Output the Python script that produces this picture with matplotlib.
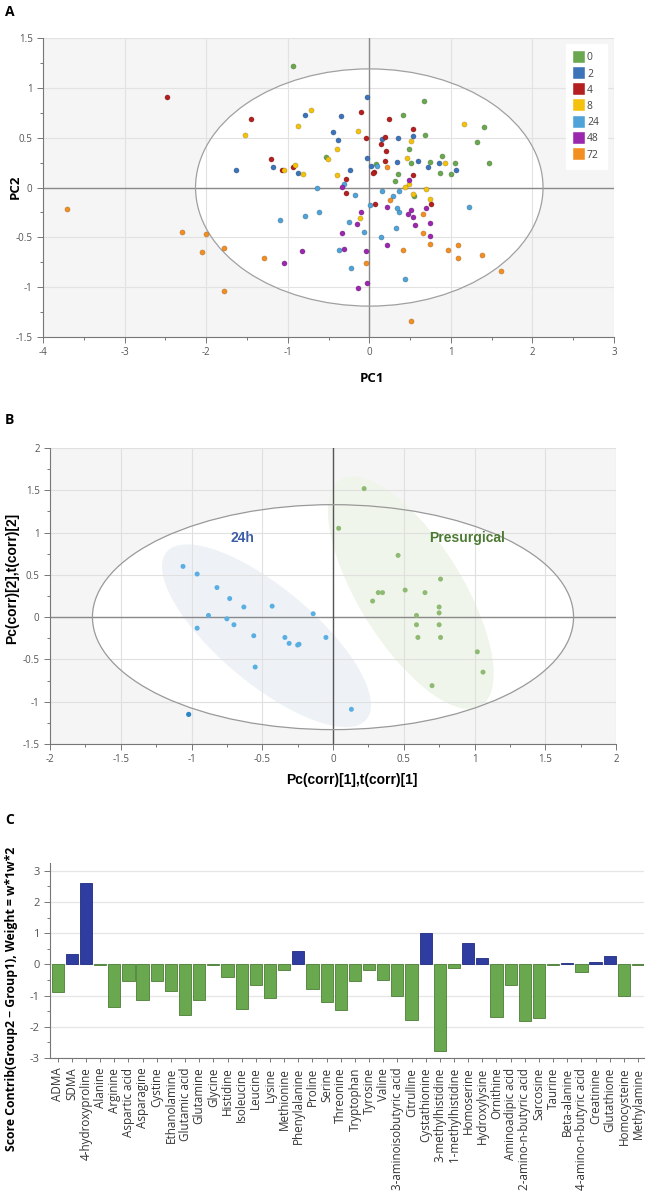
import matplotlib
matplotlib.use("Agg")
import matplotlib.pyplot as plt
from matplotlib.patches import Ellipse
from matplotlib.lines import Line2D
from matplotlib.ticker import MultipleLocator

# ---------------- Panel A data (PCA scores by time point) ----------------
groups_a = ["0", "2", "4", "8", "24", "48", "72"]
colors_a = ["#6aa84f", "#3d73b8", "#b41f1f", "#f4c20d", "#4fa3d8", "#9b27af", "#f38f22"]

pc1_0 = [-0.94, 0.67, 0.41, 0.68, 1.41, 1.32, 1.47, 0.49, 0.51, 0.75, 0.89, 1.05, 0.87, 1.00, 0.35, 0.32, 0.08, -0.53, 0.55]
pc2_0 = [1.22, 0.87, 0.73, 0.53, 0.61, 0.46, 0.25, 0.39, 0.25, 0.26, 0.32, 0.25, 0.15, 0.14, 0.14, 0.07, 0.24, 0.31, -0.09]

pc1_2 = [-0.03, -0.79, -0.35, -0.45, -0.38, 0.16, 0.35, 0.53, -0.03, 0.02, 0.34, 0.60, 0.72, 0.86, 1.06, -0.24, -0.87, -1.18, -1.63]
pc2_2 = [0.91, 0.73, 0.72, 0.56, 0.48, 0.49, 0.50, 0.52, 0.30, 0.22, 0.26, 0.27, 0.21, 0.25, 0.18, 0.18, 0.15, 0.21, 0.18]

pc1_4 = [-2.48, -1.45, -0.10, 0.24, 0.54, -0.04, 0.19, 0.14, 0.21, 0.19, 0.06, 0.05, 0.53, -1.20, -1.07, -0.94, -0.28, -0.28, 0.07, 0.76]
pc2_4 = [0.91, 0.69, 0.76, 0.69, 0.59, 0.50, 0.51, 0.44, 0.37, 0.27, 0.16, 0.15, 0.13, 0.29, 0.18, 0.21, 0.09, -0.06, -0.17, -0.17]

pc1_8 = [-0.72, -1.52, -0.88, -0.14, -0.39, -0.51, -0.91, -1.04, -0.81, -0.39, 0.51, 0.46, 0.93, 1.16, 0.49, 0.44, 0.54, 0.70, 0.75, -0.11]
pc2_8 = [0.78, 0.53, 0.62, 0.57, 0.39, 0.29, 0.23, 0.18, 0.14, 0.13, 0.47, 0.30, 0.25, 0.64, 0.04, 0.01, -0.07, -0.02, -0.12, -0.31]

pc1_24 = [-0.64, -0.31, -0.18, 0.01, 0.10, 0.16, 0.36, 0.29, 0.36, 0.34, 1.22, -1.10, -0.79, -0.62, -0.25, -0.06, 0.14, 0.33, -0.37, -0.22, 0.44]
pc2_24 = [-0.01, 0.04, -0.08, -0.18, 0.22, -0.04, -0.04, -0.09, -0.25, -0.21, -0.20, -0.33, -0.29, -0.25, -0.35, -0.45, -0.50, -0.41, -0.63, -0.81, -0.92]

pc1_48 = [-0.33, 0.49, 0.22, 0.51, 0.47, 0.53, 0.69, -0.10, -0.15, 0.75, 0.56, 0.75, -0.33, 0.22, -0.31, -0.82, -0.04, -1.05, -0.03, -0.14]
pc2_48 = [0.01, 0.08, -0.20, -0.23, -0.27, -0.30, -0.21, -0.25, -0.37, -0.36, -0.38, -0.49, -0.46, -0.58, -0.62, -0.64, -0.64, -0.76, -0.96, -1.01]

pc1_72 = [-3.70, -2.29, -2.00, -2.05, -1.78, -1.78, -1.29, -0.04, 0.25, 0.22, 0.66, 0.66, 0.41, 0.75, 0.96, 1.09, 1.09, 1.38, 1.61, 0.51]
pc2_72 = [-0.22, -0.45, -0.47, -0.65, -0.61, -1.04, -0.71, -0.76, -0.13, 0.21, -0.27, -0.46, -0.63, -0.57, -0.63, -0.58, -0.71, -0.68, -0.84, -1.34]

pc1_all = [pc1_0, pc1_2, pc1_4, pc1_8, pc1_24, pc1_48, pc1_72]
pc2_all = [pc2_0, pc2_2, pc2_4, pc2_8, pc2_24, pc2_48, pc2_72]

# ---------------- Panel B data (OPLS-DA scores) ----------------
b_24h_x = [-1.06, -0.96, -0.82, -0.73, -0.63, -0.43, -0.14, -0.88, -0.75, -0.70, -0.96, -0.56, -0.34, -0.31, -0.25, -0.24, -0.05, -0.55, 0.13]
b_24h_y = [0.60, 0.51, 0.35, 0.22, 0.12, 0.13, 0.04, 0.02, -0.02, -0.09, -0.13, -0.22, -0.24, -0.31, -0.33, -0.32, -0.24, -0.59, -1.09]
b_out_x = [-1.02]
b_out_y = [-1.15]
b_pre_x = [0.22, 0.04, 0.46, 0.76, 0.51, 0.32, 0.35, 0.65, 0.28, 0.75, 0.59, 0.75, 0.59, 0.75, 0.60, 0.76, 1.02, 1.06, 0.70]
b_pre_y = [1.52, 1.05, 0.73, 0.45, 0.32, 0.29, 0.29, 0.29, 0.19, 0.12, 0.02, 0.05, -0.09, -0.09, -0.24, -0.24, -0.41, -0.65, -0.81]

# ---------------- Panel C data (score contributions) ----------------
metabolites = ["ADMA", "SDMA", "4-hydroxyproline", "Alanine", "Arginine", "Aspartic acid",
               "Asparagine", "Cystine", "Ethanolamine", "Glutamic acid", "Glutamine", "Glycine",
               "Histidine", "Isoleucine", "Leucine", "Lysine", "Methionine", "Phenylalanine",
               "Proline", "Serine", "Threonine", "Tryptophan", "Tyrosine", "Valine",
               "3-aminoisobutyric acid", "Citrulline", "Cystathionine", "3-methylhistidine",
               "1-methylhistidine", "Homoserine", "Hydroxylysine", "Ornithine", "Aminoadipic acid",
               "2-amino-n-butyric acid", "Sarcosine", "Taurine", "Beta-alanine",
               "4-amino-n-butyric acid", "Creatinine", "Glutathione", "Homocysteine", "Methylamine"]
contrib = [-0.89, 0.32, 2.62, -0.02, -1.36, -0.54, -1.13, -0.54, -0.85, -1.62, -1.15, -0.02,
           -0.39, -1.44, -0.67, -1.07, -0.18, 0.44, -0.80, -1.21, -1.47, -0.54, -0.18, -0.49,
           -1.00, -1.77, 1.02, -2.78, -0.10, 0.69, 0.21, -1.68, -0.66, -1.80, -1.73, -0.02,
           0.05, -0.24, 0.09, 0.26, -1.00, -0.02]

# ---------------- Figure ----------------
W, H = 664, 1199
fig = plt.figure(figsize=(W / 100, H / 100), dpi=100)
TICK_FONT = ["Open Sans", "DejaVu Sans"]
ARIAL = ["Liberation Sans", "DejaVu Sans"]


def ax_px(l, t, r, b):
    return fig.add_axes([l / W, 1 - b / H, (r - l) / W, (b - t) / H])


def fig_text(xpx, ypx, s, **kw):
    return fig.text(xpx / W, 1 - ypx / H, s, **kw)


def style_axes(ax, fs=7):
    for s in ["top", "right"]:
        ax.spines[s].set_visible(False)
    for s in ["left", "bottom"]:
        ax.spines[s].set_color("#777777")
        ax.spines[s].set_linewidth(0.8)
    ax.tick_params(which="both", colors="#777777", labelcolor="#555555", labelsize=fs, width=0.7)
    ax.tick_params(which="major", length=4)
    ax.tick_params(which="minor", length=2.5)
    for lab in ax.get_xticklabels() + ax.get_yticklabels():
        lab.set_family(TICK_FONT)


# ---------- Panel A ----------
axA = ax_px(43, 38, 614, 337)
axA.set_facecolor("#f5f5f5")
axA.set_xlim(-4, 3)
axA.set_ylim(-1.5, 1.5)
axA.add_patch(Ellipse((0, 0), 2 * 2.13, 2 * 1.19, facecolor="white", edgecolor="none", zorder=0.1))
axA.add_patch(Ellipse((0, 0), 2 * 2.13, 2 * 1.19, facecolor="none", edgecolor="#a0a0a0", lw=0.9, zorder=2))
axA.set_axisbelow(True)
axA.grid(True, color="#e2e2e2", lw=0.8)
axA.axhline(0, color="#8a8a8a", lw=1.0, zorder=1.5)
axA.axvline(0, color="#8a8a8a", lw=1.0, zorder=1.5)
for xs, ys, c in zip(pc1_all, pc2_all, colors_a):
    axA.scatter(xs, ys, s=14, color=c, edgecolor="#00000040", linewidth=0.4, zorder=3)
axA.xaxis.set_minor_locator(MultipleLocator(0.5))
axA.yaxis.set_minor_locator(MultipleLocator(0.25))
axA.set_yticks([1.5, 1, 0.5, 0, -0.5, -1, -1.5])
axA.set_yticklabels(["1.5", "1", "0.5", "0", "-0.5", "-1", "-1.5"])
axA.set_xticks(range(-4, 4))
axA.set_xticklabels([str(v) for v in range(-4, 4)])
style_axes(axA, 7)
fig_text(372, 378, "PC1", fontsize=9.5, fontweight="bold", family=TICK_FONT, ha="center", va="center")
fig_text(15, 187, "PC2", fontsize=9.5, fontweight="bold", family=TICK_FONT, ha="center", va="center",
         rotation=90)
handles = [Line2D([], [], marker="s", linestyle="none", markersize=8.6, markerfacecolor=c,
                  markeredgecolor="#ffffff", markeredgewidth=0.3) for c in colors_a]
leg = axA.legend(handles, groups_a, loc="upper right", bbox_to_anchor=(0.988, 0.98), frameon=True,
                 handlelength=0.9, handletextpad=0.3, labelspacing=0.5,
                 borderpad=0.8, borderaxespad=0.0, prop={"family": TICK_FONT, "size": 7.5})
leg.get_frame().set_facecolor("white")
leg.get_frame().set_edgecolor("white")
leg.get_frame().set_alpha(1)
leg.get_frame().set_boxstyle("square", pad=0)
for t in leg.get_texts():
    t.set_color("#444444")
leg.set_zorder(5)

# ---------- Panel B ----------
axB = ax_px(50, 448, 616, 744)
axB.set_facecolor("#f5f5f5")
axB.set_xlim(-2, 2)
axB.set_ylim(-1.5, 2)
axB.add_patch(Ellipse((0, 0), 2 * 1.70, 2 * 1.33, facecolor="white", edgecolor="none", zorder=0.1))
axB.add_patch(Ellipse((-0.47, -0.22), 2 * 1.24, 2 * 0.42, angle=-58.6, facecolor="#eef2f7",
                      edgecolor="none", zorder=0.2))
axB.add_patch(Ellipse((0.55, 0.29), 2 * 1.44, 2 * 0.40, angle=-72.0, facecolor="#eff5ea",
                      edgecolor="none", zorder=0.2))
axB.add_patch(Ellipse((0, 0), 2 * 1.70, 2 * 1.33, facecolor="none", edgecolor="#999999", lw=0.9, zorder=2))
axB.set_axisbelow(True)
axB.grid(True, color="#e0e0e0", lw=0.8)
axB.axhline(0, color="#8a8a8a", lw=1.0, zorder=1.5)
axB.axvline(0, color="#555555", lw=1.0, zorder=1.5)
axB.scatter(b_24h_x, b_24h_y, s=13, color="#5aafe2", edgecolor="none", zorder=3)
axB.scatter(b_out_x, b_out_y, s=14, color="#2f86c6", edgecolor="none", zorder=3)
axB.scatter(b_pre_x, b_pre_y, s=13, color="#8fba74", edgecolor="none", zorder=3)
axB.text(-0.64, 0.93, "24h", color="#3c5ea6", fontsize=10, fontweight="bold",
         family=ARIAL, ha="center", va="center", zorder=4)
axB.text(0.95, 0.93, "Presurgical", color="#4d7a33", fontsize=10, fontweight="bold",
         family=ARIAL, ha="center", va="center", zorder=4)
axB.xaxis.set_minor_locator(MultipleLocator(0.25))
axB.yaxis.set_minor_locator(MultipleLocator(0.25))
bx = [-2, -1.5, -1, -0.5, 0, 0.5, 1, 1.5, 2]
axB.set_xticks(bx)
axB.set_xticklabels(["-2", "-1.5", "-1", "-0.5", "0", "0.5", "1", "1.5", "2"])
by = [-1.5, -1, -0.5, 0, 0.5, 1, 1.5, 2]
axB.set_yticks(by)
axB.set_yticklabels(["-1.5", "-1", "-0.5", "0", "0.5", "1", "1.5", "2"])
style_axes(axB, 7)
fig_text(352, 780, "Pc(corr)[1],t(corr)[1]", fontsize=10, fontweight="bold", family=ARIAL,
         ha="center", va="center")
fig_text(12, 578, "Pc(corr)[2],t(corr)[2]", fontsize=10, fontweight="bold", family=ARIAL,
         ha="center", va="center", rotation=90)

# ---------- Panel C ----------
axC = ax_px(50, 863, 644, 1058)
axC.set_xlim(-0.54, len(metabolites) - 0.58)
axC.set_ylim(-3, 3.25)
xpos = list(range(len(metabolites)))
bar_colors = ["#2e3d9f" if v > 0 else "#6aa84f" for v in contrib]
edge_colors = ["#1f2b80" if v > 0 else "#4b7d36" for v in contrib]
axC.bar(xpos, contrib, width=0.86, color=bar_colors, edgecolor=edge_colors, linewidth=0.6, zorder=2)
axC.set_axisbelow(True)
axC.yaxis.grid(True, color="#e6e6e6", lw=0.9)
axC.set_yticks([-3, -2, -1, 0, 1, 2, 3])
axC.set_yticklabels(["-3", "-2", "-1", "0", "1", "2", "3"])
axC.yaxis.set_minor_locator(MultipleLocator(0.5))
axC.set_xticks(xpos)
axC.set_xticklabels(metabolites, rotation=90)
style_axes(axC, 8)
for lab in axC.get_xticklabels():
    lab.set_fontsize(8.4)
    lab.set_color("#333333")
axC.tick_params(axis="x", length=3, pad=4)
fig_text(12, 999, "Score Contrib(Group2 \u2212 Group1), Weight = w*1w*2", fontsize=8.8, fontweight="bold",
         family=TICK_FONT, ha="center", va="center", rotation=90)

# ---------- Panel letters ----------
for letter, ypx in [("A", 12), ("B", 420), ("C", 820)]:
    fig_text(5, ypx, letter, fontsize=10, fontweight="bold", family=TICK_FONT, ha="left", va="center")

fig.savefig("out.png", dpi=100)
